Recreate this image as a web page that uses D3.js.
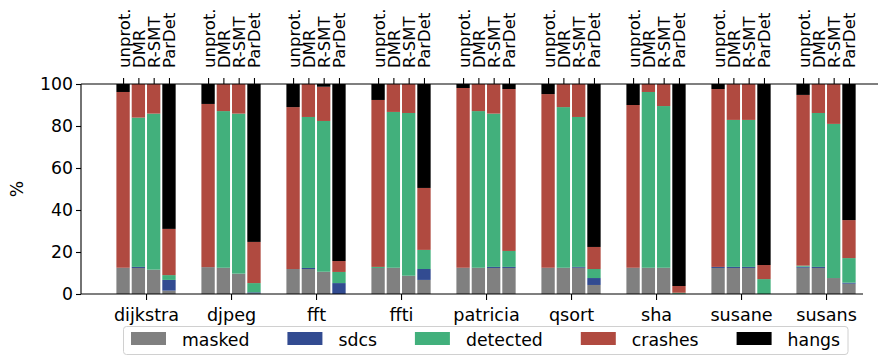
<!DOCTYPE html>
<html>
<head>
<meta charset="utf-8">
<script src="https://cdn.jsdelivr.net/npm/d3@7"></script>
<style>
  html, body { margin: 0; padding: 0; background: #fff; }
  svg { display: block; font-family: "DejaVu Sans", sans-serif; }
</style>
</head>
<body>
<div id="chart"></div>
<script>
// benchmarks and protection variants
const benchmarks = ['dijkstra', 'djpeg', 'fft', 'ffti', 'patricia', 'qsort', 'sha', 'susane', 'susans'];
const variants = ['unprot.', 'DMR', 'R-SMT', 'ParDet'];
const outcomes = ['masked', 'sdcs', 'detected', 'crashes', 'hangs'];
const yTicks = [0, 20, 40, 60, 80, 100];

// percentage per benchmark, per variant (unprot., DMR, R-SMT, ParDet)
const masked = [
  [12.5, 12.4, 11.6, 1.6], [12.8, 12.5, 9.7, 0.3], [11.9, 11.9, 10.6, 0],
  [12.4, 12.5, 8.7, 6.7], [12.5, 12.5, 12.4, 12.4], [12.5, 12.5, 12.5, 4.3],
  [12.5, 12.5, 12.5, 0.1], [12.4, 12.4, 12.4, 0], [12.5, 12.4, 7.6, 4.9]
];
const sdcs = [
  [0, 0.5, 0, 5.1], [0, 0, 0, 0.5], [0, 0.5, 0, 5.2],
  [0, 0, 0, 5.2], [0, 0, 0.5, 0.5], [0, 0, 0.4, 3.3],
  [0, 0, 0, 0], [0.5, 0.5, 0.5, 0], [0.5, 0.5, 0, 0.5]
];
const detected = [
  [0, 71.1, 74.3, 2.3], [0, 74.6, 76.2, 4.4], [0, 71.9, 71.8, 5.3],
  [0.5, 74.2, 77.5, 9.1], [0, 74.6, 73.0, 7.6], [0, 76.5, 71.4, 4.3],
  [0, 83.7, 77.0, 0.5], [0, 70.0, 70.0, 7.1], [0.5, 73.3, 73.4, 11.7]
];
const crashes = [
  [83.7, 16.0, 14.1, 22.0], [77.7, 12.9, 14.1, 19.6], [77.1, 15.7, 16.3, 5.2],
  [79.5, 13.3, 13.8, 29.5], [85.6, 12.9, 14.1, 77.1], [82.7, 11.0, 15.7, 10.5],
  [77.5, 3.8, 10.5, 3.2], [84.7, 17.1, 17.1, 6.7], [81.3, 13.8, 19.0, 18.1]
];
const hangs = [
  [3.8, 0, 0, 69.0], [9.5, 0, 0, 75.2], [11.0, 0, 1.3, 84.3],
  [7.6, 0, 0, 49.5], [1.9, 0, 0, 2.4], [4.8, 0, 0, 77.6],
  [10.0, 0, 0, 96.2], [2.4, 0, 0, 86.2], [5.2, 0, 0, 64.8]
];

const colors = {
  masked: '#808080',
  sdcs: '#324b91',
  detected: '#42b07c',
  crashes: '#b04a40',
  hangs: '#000000'
};
const seriesData = { masked, sdcs, detected, crashes, hangs };

const W = 878, H = 356;
const margin = { top: 84, left: 81 };
const plotH = 210;
const fontTick = 17.3;

const svg = d3.select('#chart').append('svg')
  .attr('width', W)
  .attr('height', H);

// scales
const x = d3.scaleLinear().domain([-0.765, 8.435]).range([margin.left, 863]);
const y = d3.scaleLinear().domain([0, 100]).range([margin.top + plotH, margin.top]);
const offset = d3.scaleLinear().domain([0, 3]).range([-0.27, 0.27]);
const barW = x(0.157) - x(0);

// flatten into rows for stacking
const rows = [];
benchmarks.forEach((b, i) => {
  variants.forEach((v, j) => {
    const r = { bench: i, variant: j };
    outcomes.forEach(o => { r[o] = seriesData[o][i][j]; });
    rows.push(r);
  });
});
const stacked = d3.stack().keys(outcomes)(rows);

const barCenter = d => x(d.data.bench + offset(d.data.variant));

svg.append('g')
  .selectAll('g')
  .data(stacked)
  .join('g')
  .attr('fill', s => colors[s.key])
  .selectAll('rect')
  .data(s => s.filter(d => d[1] - d[0] > 0))
  .join('rect')
  .attr('x', d => barCenter(d) - barW / 2)
  .attr('width', barW)
  .attr('y', d => y(d[1]))
  .attr('height', d => y(d[0]) - y(d[1]));

// left axis
const yAxis = d3.axisLeft(y).tickValues(yTicks).tickSize(5).tickPadding(3);
const gy = svg.append('g')
  .attr('transform', `translate(${margin.left},0)`)
  .call(yAxis);
gy.select('.domain').attr('d', `M0,${y(0)}V${y(100)}`).attr('stroke', '#000').attr('stroke-width', 1.1);
gy.selectAll('.tick line').attr('stroke', '#000').attr('stroke-width', 1.1);
gy.selectAll('.tick text')
  .attr('fill', '#000')
  .style('font-size', fontTick + 'px')
  .style('font-family', '"DejaVu Sans", sans-serif');

// bottom axis with benchmark names
const gx = svg.append('g')
  .attr('transform', `translate(0,${y(0)})`)
  .call(d3.axisBottom(x).tickValues(d3.range(benchmarks.length))
    .tickFormat(i => benchmarks[i]).tickSize(6).tickPadding(5));
gx.select('.domain').attr('d', `M${margin.left},0H863`).attr('stroke', '#000').attr('stroke-width', 1.1);
gx.selectAll('.tick line').attr('stroke', '#000').attr('stroke-width', 1.1);
gx.selectAll('.tick text')
  .attr('fill', '#000')
  .attr('dy', '0.9em')
  .style('font-size', '17.6px')
  .style('font-family', '"DejaVu Sans", sans-serif');

// top axis with variant names, one tick per bar
const topTicks = [];
benchmarks.forEach((b, i) => variants.forEach((v, j) => topTicks.push(i + offset(j))));
const gt = svg.append('g')
  .attr('transform', `translate(0,${y(100)})`)
  .call(d3.axisTop(x).tickValues(topTicks).tickSize(6).tickFormat(''));
gt.select('.domain').attr('d', `M${margin.left},0H${W}`).attr('stroke', '#000').attr('stroke-width', 1.1);
gt.selectAll('.tick line').attr('stroke', '#000').attr('stroke-width', 1.1);
gt.selectAll('.tick')
  .append('text')
  .attr('transform', 'translate(0,-16) rotate(-90)')
  .attr('dy', '0.36em')
  .attr('text-anchor', 'start')
  .attr('fill', '#000')
  .style('font-size', '16.5px')
  .style('font-family', '"DejaVu Sans", sans-serif')
  .text((d, k) => variants[k % variants.length]);

// y label
svg.append('text')
  .attr('transform', `translate(17,${y(50)}) rotate(-90)`)
  .attr('text-anchor', 'middle')
  .attr('dy', '0.35em')
  .style('font-size', fontTick + 'px')
  .text('%');

// legend
const legend = svg.append('g').attr('class', 'legend');
const legBox = legend.append('rect')
  .attr('x', 123.5).attr('y', 326.5)
  .attr('width', 724.5).attr('height', 28)
  .attr('rx', 3)
  .attr('fill', '#fff').attr('fill-opacity', 0.8)
  .attr('stroke', '#d0d0d0').attr('stroke-width', 1);

let lx = 131;
outcomes.forEach(o => {
  legend.append('rect')
    .attr('x', lx).attr('y', 332)
    .attr('width', 35).attr('height', 13)
    .attr('fill', colors[o]);
  const t = legend.append('text')
    .attr('x', lx + 51).attr('y', 345.5)
    .style('font-size', fontTick + 'px')
    .text(o);
  const w = t.node().getComputedTextLength();
  lx = lx + 51 + w + 38;
});
</script>
</body>
</html>
